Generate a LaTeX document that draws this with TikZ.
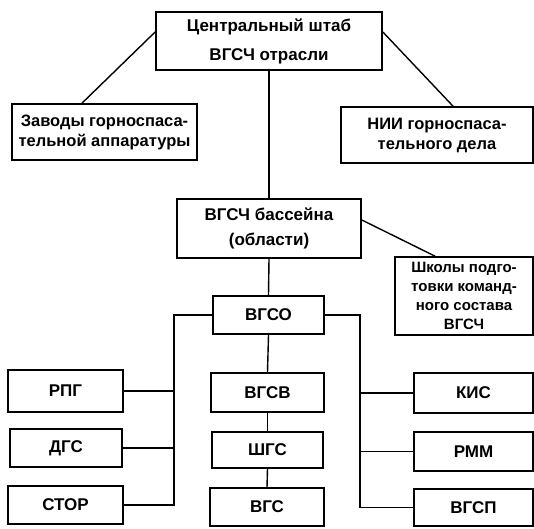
\documentclass[tikz,border=0pt]{standalone}
\usepackage{fontspec}
\setmainfont{Liberation Sans}
\begin{document}
\begin{tikzpicture}[x=1pt,y=-1pt,
  box/.style={draw,line width=1.7pt,inner sep=0pt,align=center,font=\bfseries\fontsize{16.5}{20}\selectfont},
  small/.style={box,font=\bfseries\fontsize{17}{20}\selectfont},
  link/.style={line width=1.4pt}]
\useasboundingbox[fill=white] (0,0) rectangle (534,528);
\node[box,minimum width=226,minimum height=58,font=\bfseries\fontsize{17}{29}\selectfont] (top) at (269,41) {Центральный штаб\\ВГСЧ отрасли};
\node[box,minimum width=185,minimum height=56] (zav) at (104.5,132) {Заводы горноспаса-\\тельной аппаратуры};
\node[box,minimum width=192,minimum height=56] (nii) at (437,135) {НИИ горноспаса-\\тельного дела};
\node[box,minimum width=184,minimum height=59,font=\bfseries\fontsize{17}{25}\selectfont] (bass) at (269,228.5) {ВГСЧ бассейна\\(области)};
\node[box,minimum width=138,minimum height=78,font=\bfseries\fontsize{15}{19}\selectfont] (school) at (464,296) {Школы подго-\\товки команд-\\ного состава\\ВГСЧ};
\node[small,minimum width=111,minimum height=38] (vgso) at (268.5,315) {ВГСО};
\node[small,minimum width=115,minimum height=42] (rpg) at (65.5,391) {РПГ};
\node[small,minimum width=112,minimum height=38] (dgs) at (66,448) {ДГС};
\node[small,minimum width=115,minimum height=38] (stor) at (65.5,505) {СТОР};
\node[small,minimum width=113,minimum height=39] (vgsv) at (267.5,392.5) {ВГСВ};
\node[small,minimum width=111,minimum height=36] (shgs) at (267.5,450) {ШГС};
\node[small,minimum width=114,minimum height=38] (vgs) at (267,507) {ВГС};
\node[small,minimum width=119,minimum height=40] (kis) at (473.5,393) {КИС};
\node[small,minimum width=119,minimum height=39] (rmm) at (473.5,451.5) {РММ};
\node[small,minimum width=119,minimum height=37] (vgsp) at (473.5,507.5) {ВГСП};
\coordinate (lbus) at (174,315);
\coordinate (rbus) at (360,315);
\draw[link] ([yshift=9pt]top.west) -- ([xshift=-22.5pt]zav.north);
\draw[link] ([yshift=9pt]top.east) -- ([xshift=16pt]nii.north);
\draw[link] (top.south) -- (bass.north);
\draw[link] ([yshift=8.5pt]bass.east) -- ([xshift=-29pt]school.north);
\draw[link] (bass.south) -- (vgso.north);
\draw[link] (vgso.west) -- (lbus) |- (stor.east);
\draw[link] (rpg.east) -- (rpg.east -| lbus);
\draw[link] (dgs.east) -- (dgs.east -| lbus);
\draw[link] (vgso.east) -- (rbus) |- (vgsp.west);
\draw[link] (kis.west) -- (kis.west -| rbus);
\draw[link] (rmm.west) -- (rmm.west -| rbus);
\draw[link] (vgso.south) -- (vgsv.north);
\draw[link] (vgsv.south) -- (shgs.north);
\draw[link] (shgs.south) -- (vgs.north);
\end{tikzpicture}
\end{document}
